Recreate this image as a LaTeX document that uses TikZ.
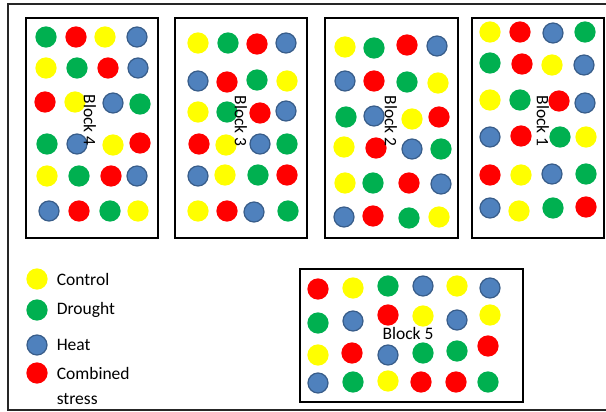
\documentclass[tikz,border=0pt]{standalone}
\usepackage{fontspec}
\setmainfont{Carlito}
\usetikzlibrary{positioning}
\definecolor{ctlyellow}{HTML}{FFFF00}
\definecolor{drogreen}{HTML}{00B050}
\definecolor{hotblue}{HTML}{4F81BD}
\definecolor{hotedge}{HTML}{385D8A}
\definecolor{cmbred}{HTML}{FF0000}
\begin{document}
\begin{tikzpicture}[
  x=1pt, y=-1pt,
  font=\fontsize{17.5}{20}\selectfont,
  plant/.style={circle, minimum size=20pt, inner sep=0pt, line width=1.2pt},
  ctl/.style={plant, fill=ctlyellow, draw=ctlyellow},
  dro/.style={plant, fill=drogreen, draw=drogreen},
  hot/.style={plant, fill=hotblue, draw=hotedge},
  cmb/.style={plant, fill=cmbred, draw=cmbred},
  block/.style={rectangle, draw=black, line width=1.6pt, fill=white,
                minimum width=132pt, minimum height=220pt, inner sep=0pt},
  blocklbl/.style={rotate=-90, inner sep=0pt},
  keylbl/.style={anchor=west, inner sep=0pt, align=left},
]
\useasboundingbox (0,0) rectangle (606,412);

% outer frame (open on the right)
\draw[line width=1.1pt, black!85] (606,4) -- (8,4) -- (8,410) -- (606,410);

% blocks
\node[block] (blk4) at (92,128) {};
\node[block] (blk3) at (241,128) {};
\node[block, minimum width=133pt] (blk2) at (391.5,128) {};
\node[block] (blk1) at (538,128) {};
\node[block, minimum width=223pt, minimum height=133pt] (blk5) at (411.5,335.5) {};

% plants, block 4
\foreach \px/\py/\c [count=\i] in {
  46/37/dro, 76/37/cmb, 105/37/ctl, 137/37/hot,
  46/68/ctl, 77/68/dro, 108/68/cmb, 138/68/hot,
  45/102/cmb, 75/102/ctl, 113/103/hot, 140/104/dro,
  47/144/dro, 77/144/hot, 113/145/ctl, 140/143/cmb,
  47/176/ctl, 79/176/dro, 111/176/cmb, 137/176/hot,
  49/211/hot, 79/211/cmb, 110/211/dro, 138/211/ctl}
  \node[\c] (b4p\i) at (\px,\py) {};

% plants, block 3
\foreach \px/\py/\c [count=\i] in {
  198/43/ctl, 228/43/dro, 257/44/cmb, 286/43/hot,
  198/81/hot, 227/82/cmb, 257/80/dro, 287/81/ctl,
  198/112/ctl, 227/112/dro, 260/113/cmb, 286/111/hot,
  199/144/cmb, 226/145/ctl, 260/144/hot, 287/144/dro,
  198/176/hot, 225/175/ctl, 258/175/dro, 287/175/cmb,
  198/211/ctl, 227/211/cmb, 254/212/hot, 288/211/dro}
  \node[\c] (b3p\i) at (\px,\py) {};

% plants, block 2
\foreach \px/\py/\c [count=\i] in {
  345/47/ctl, 374/48/dro, 407/45/cmb, 437/46/hot,
  345/81/hot, 374/81/cmb, 407/82/dro, 438/83/ctl,
  346/117/dro, 374/116/hot, 412/119/ctl, 439/117/cmb,
  344/147/ctl, 376/148/cmb, 412/149/hot, 441/149/dro,
  345/183/ctl, 373/183/dro, 409/183/cmb, 441/184/hot,
  344/217/hot, 373/216/cmb, 409/218/dro, 439/217/ctl}
  \node[\c] (b2p\i) at (\px,\py) {};

% plants, block 1
\foreach \px/\py/\c [count=\i] in {
  490/32/ctl, 520/32/cmb, 553/33/hot, 585/32/dro,
  490/63/dro, 522/64/cmb, 552/65/ctl, 584/65/hot,
  490/100/ctl, 520/100/dro, 559/101/cmb, 585/103/hot,
  490/137/hot, 521/136/cmb, 560/137/dro, 586/137/ctl,
  490/175/cmb, 521/175/ctl, 552/174/hot, 586/174/dro,
  490/208/hot, 519/211/ctl, 553/208/dro, 586/207/cmb}
  \node[\c] (b1p\i) at (\px,\py) {};

% plants, block 5
\foreach \px/\py/\c [count=\i] in {
  318/289/cmb, 353/288/ctl, 388/286/dro, 423/286/hot, 457/286/ctl, 490/288/hot,
  318/323/dro, 353/321/hot, 388/315/cmb, 423/316/ctl, 457/320/hot, 490/315/ctl,
  318/355/ctl, 352/353/cmb, 388/355/hot, 423/353/dro, 457/351/dro, 488/346/cmb,
  318/383/hot, 353/382/dro, 388/381/ctl, 421/382/cmb, 456/382/cmb, 488/382/dro}
  \node[\c] (b5p\i) at (\px,\py) {};

% block labels
\node[blocklbl] (lbl4) at (90,120) {Block 4};
\node[blocklbl] (lbl3) at (241,121) {Block 3};
\node[blocklbl] (lbl2) at (391,121) {Block 2};
\node[blocklbl] (lbl1) at (543,121) {Block 1};
\node[inner sep=0pt] (lbl5) at (408,333) {Block 5};

% key
\node[ctl] (kctl) at (37,279) {};
\node[dro] (kdro) at (37,310) {};
\node[hot] (khot) at (37,345) {};
\node[cmb] (kcmb) at (37,373) {};
\node[keylbl, right=9pt of kctl] (tctl) {Control};
\node[keylbl, right=9pt of kdro] (tdro) {Drought};
\node[keylbl, right=9pt of khot] (thot) {Heat};
\node[keylbl, font=\fontsize{17.5}{25}\selectfont, anchor=north west]
  (tcmb) at ([xshift=9pt, yshift=6pt]kcmb.east) {Combined\\stress};

\end{tikzpicture}
\end{document}
